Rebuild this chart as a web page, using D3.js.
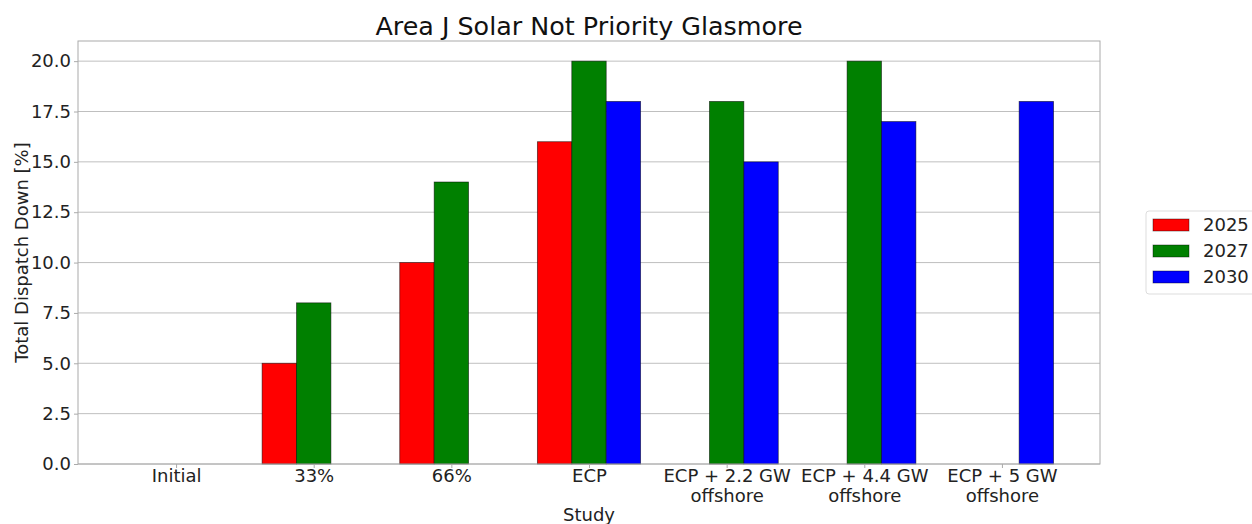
<!DOCTYPE html>
<html><head><meta charset="utf-8">
<script src="https://cdn.jsdelivr.net/npm/d3@7"></script>
<style>body{margin:0;background:#fff;}svg{font-family:"DejaVu Sans",sans-serif;}</style>
</head><body>
<svg id="c" width="1252" height="524"></svg>
<script>
const categories = ["Initial","33%","66%","ECP","ECP + 2.2 GW\noffshore","ECP + 4.4 GW\noffshore","ECP + 5 GW\noffshore"];
const seriesNames = ["2025","2027","2030"];
const seriesColors = ["#ff0000","#008000","#0000ff"];
const values2025 = [0,5,10,16,0,0,0];
const values2027 = [0,8,14,20,18,20,0];
const values2030 = [0,0,0,18,15,17,18];
const yTicks = [0,2.5,5,7.5,10,12.5,15,17.5,20];
const seriesValues = [values2025, values2027, values2030];

const svg = d3.select("#c");
const L=78, R=1100, T=41, B=464;
const barW = 0.25;
const FS = 18;
const x = d3.scaleLinear().domain([-0.7125, 6.7125]).range([L,R]);
const y = d3.scaleLinear().domain([0,21]).range([B,T]);

// grid
svg.append("g").selectAll("line").data(yTicks).join("line")
  .attr("x1",L).attr("x2",R).attr("y1",d=>y(d)).attr("y2",d=>y(d))
  .attr("stroke","#b0b0b0").attr("stroke-width",1).attr("opacity",0.8);

// bars
seriesValues.forEach((vals,si)=>{
  const off = (si-1)*barW;
  svg.append("g").selectAll("rect").data(vals.map((v,i)=>({v,i}))).join("rect")
    .filter(d=>d.v>0)
    .attr("x",d=>x(d.i+off-barW/2)).attr("width",d=>x(barW)-x(0))
    .attr("y",d=>y(d.v)).attr("height",d=>y(0)-y(d.v))
    .attr("fill",seriesColors[si]).attr("stroke","#000").attr("stroke-opacity",0.6).attr("stroke-width",0.8);
});

// frame
svg.append("rect").attr("x",L).attr("y",T).attr("width",R-L).attr("height",B-T)
  .attr("fill","none").attr("stroke","#aaaaaa").attr("stroke-width",1);

// y axis
const ya = svg.append("g").attr("transform",`translate(${L},0)`)
  .call(d3.axisLeft(y).tickValues(yTicks).tickFormat(d3.format(".1f")).tickSize(4).tickPadding(3));
ya.select(".domain").remove();
ya.selectAll("line").attr("stroke","#aaaaaa");
ya.selectAll("text").attr("font-size",FS).attr("fill","#222").attr("font-family","DejaVu Sans");

// x axis
const xa = svg.append("g").attr("transform",`translate(0,${B})`)
  .call(d3.axisBottom(x).tickValues(d3.range(categories.length)).tickFormat("").tickSize(4));
xa.select(".domain").remove();
xa.selectAll("line").attr("stroke","#aaaaaa");
xa.selectAll(".tick").each(function(d){
  const lines = categories[d].split("\n");
  const t = d3.select(this).append("text").attr("text-anchor","middle").attr("fill","#222")
    .attr("font-size",FS).attr("font-family","DejaVu Sans");
  lines.forEach((ln,k)=>t.append("tspan").attr("x",0).attr("y",18+k*20).text(ln));
});

// labels
svg.append("text").attr("x",(L+R)/2).attr("y",35).attr("text-anchor","middle")
  .attr("font-size",25.4).attr("fill","#111").text("Area J Solar Not Priority Glasmore");
svg.append("text").attr("x",(L+R)/2).attr("y",521).attr("text-anchor","middle")
  .attr("font-size",FS).attr("fill","#222").text("Study");
svg.append("text").attr("transform",`translate(28,${(T+B)/2}) rotate(-90)`).attr("text-anchor","middle")
  .attr("font-size",FS).attr("fill","#222").text("Total Dispatch Down [%]");

// legend
const lg = svg.append("g").attr("transform","translate(1146,211)");
lg.append("rect").attr("width",112).attr("height",83).attr("rx",3)
  .attr("fill","#fff").attr("stroke","#dddddd");
seriesNames.forEach((n,i)=>{
  lg.append("rect").attr("x",7).attr("y",8+i*26).attr("width",36).attr("height",12)
    .attr("fill",seriesColors[i]).attr("stroke","#000").attr("stroke-opacity",0.5).attr("stroke-width",0.8);
  lg.append("text").attr("x",57).attr("y",20+i*26).attr("font-size",FS).attr("fill","#222").text(n);
});
</script>
</body></html>
